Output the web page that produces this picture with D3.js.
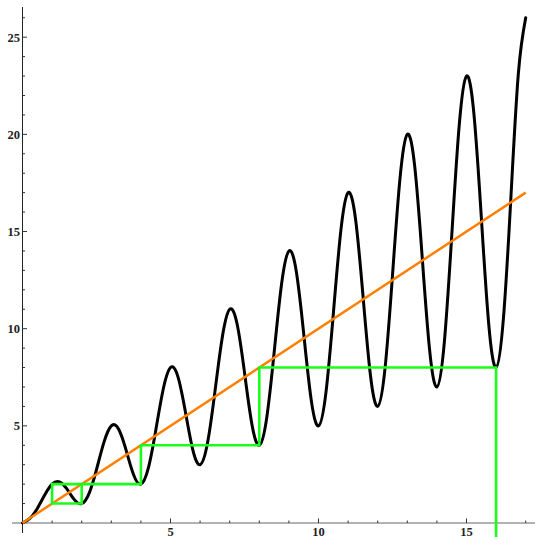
<!DOCTYPE html>
<html><head><meta charset="utf-8">
<script src="https://d3js.org/d3.v7.min.js"></script>
<style>body{margin:0;background:#fff}svg{display:block}</style>
</head><body>
<script>
const curveX = d3.range(0, 17.001, 0.25);
const curveY = [
  0, 0.235, 0.75, 1.442, 2, 2.119, 1.75, 1.204,
  1, 1.528, 2.75, 4.149, 5, 4.826, 3.75, 2.497,
  2, 2.820, 4.75, 6.856, 8, 7.533, 5.75, 3.790,
  3, 4.113, 6.75, 9.564, 11, 10.240, 7.75, 5.083,
  4, 5.406, 8.75, 12.271, 14, 12.948, 9.75, 6.376,
  5, 6.699, 10.75, 14.978, 17, 15.655, 11.75, 7.668,
  6, 7.992, 12.75, 17.685, 20, 18.362, 13.75, 8.961,
  7, 9.284, 14.75, 20.392, 23, 21.069, 15.75, 10.254,
  8, 10.577, 16.75, 23.100, 26
];
// Orange diagonal line endpoints
const lineX = [0, 17];
const lineY = [0, 17];
// Green cobweb path
const webX = [16, 16, 8, 8, 4, 4, 2, 2, 1, 1, 2];
const webY = [-1, 8, 8, 4, 4, 2, 2, 1, 1, 2, 2];
// Ticks
const xMajor = [5, 10, 15];
const yMajor = [5, 10, 15, 20, 25];
const xMinor = d3.range(1, 18).filter(v => v % 5 !== 0);
const yMinor = d3.range(1, 27).filter(v => v % 5 !== 0);

const W = 535, H = 537;
const x = d3.scaleLinear().domain([0, 17]).range([22.5, 525.7]);
const y = d3.scaleLinear().domain([0, 25]).range([523, 37.2]);

const svg = d3.select("body").append("svg").attr("width", W).attr("height", H);

// axes
const ax = svg.append("g");
ax.append("line").attr("x1", 12).attr("x2", W).attr("y1", y(0)).attr("y2", y(0))
  .attr("stroke", "#666").attr("stroke-width", 1);
ax.append("line").attr("x1", x(0)).attr("x2", x(0)).attr("y1", 533).attr("y2", 7)
  .attr("stroke", "#222").attr("stroke-width", 1);

// x ticks
ax.selectAll(".xmaj").data(xMajor).join("line")
  .attr("x1", d => x(d)).attr("x2", d => x(d)).attr("y1", y(0)).attr("y2", y(0) - 4.5)
  .attr("stroke", "#333");
ax.selectAll(".xmin").data(xMinor).join("line")
  .attr("x1", d => x(d)).attr("x2", d => x(d)).attr("y1", y(0)).attr("y2", y(0) - 2.5)
  .attr("stroke", "#333");
ax.selectAll(".xlab").data(xMajor).join("text")
  .attr("x", d => x(d)).attr("y", 535.5).attr("text-anchor", "middle")
  .attr("font-family", "Liberation Serif, serif").attr("font-weight", "bold")
  .attr("font-size", 12.5).attr("fill", "#222").text(d => d);

// y ticks
ax.selectAll(".ymaj").data(yMajor).join("line")
  .attr("x1", x(0)).attr("x2", x(0) + 4.5).attr("y1", d => y(d)).attr("y2", d => y(d))
  .attr("stroke", "#333");
ax.selectAll(".ymin").data(yMinor).join("line")
  .attr("x1", x(0)).attr("x2", x(0) + 2.5).attr("y1", d => y(d)).attr("y2", d => y(d))
  .attr("stroke", "#333");
ax.selectAll(".ylab").data(yMajor).join("text")
  .attr("x", 20).attr("y", d => y(d) + 4.3).attr("text-anchor", "end")
  .attr("font-family", "Liberation Serif, serif").attr("font-weight", "bold")
  .attr("font-size", 12.5).attr("fill", "#222").text(d => d);

// black curve
const pts = curveX.map((v, i) => [v, curveY[i]]);
svg.append("path").datum(pts)
  .attr("d", d3.line().x(d => x(d[0])).y(d => y(d[1])).curve(d3.curveNatural))
  .attr("fill", "none").attr("stroke", "#000").attr("stroke-width", 3)
  .attr("stroke-linejoin", "round").attr("stroke-linecap", "round");

// orange line
svg.append("path").datum(lineX.map((v, i) => [v, lineY[i]]))
  .attr("d", d3.line().x(d => x(d[0])).y(d => y(d[1])))
  .attr("fill", "none").attr("stroke", "#ff8000").attr("stroke-width", 2.5);

// green cobweb
svg.append("path").datum(webX.map((v, i) => [v, webY[i]]))
  .attr("d", d3.line().x(d => x(d[0])).y(d => y(d[1])))
  .attr("fill", "none").attr("stroke", "#1aff1a").attr("stroke-width", 2.6)
  .attr("stroke-linejoin", "miter");
</script>
</body></html>
